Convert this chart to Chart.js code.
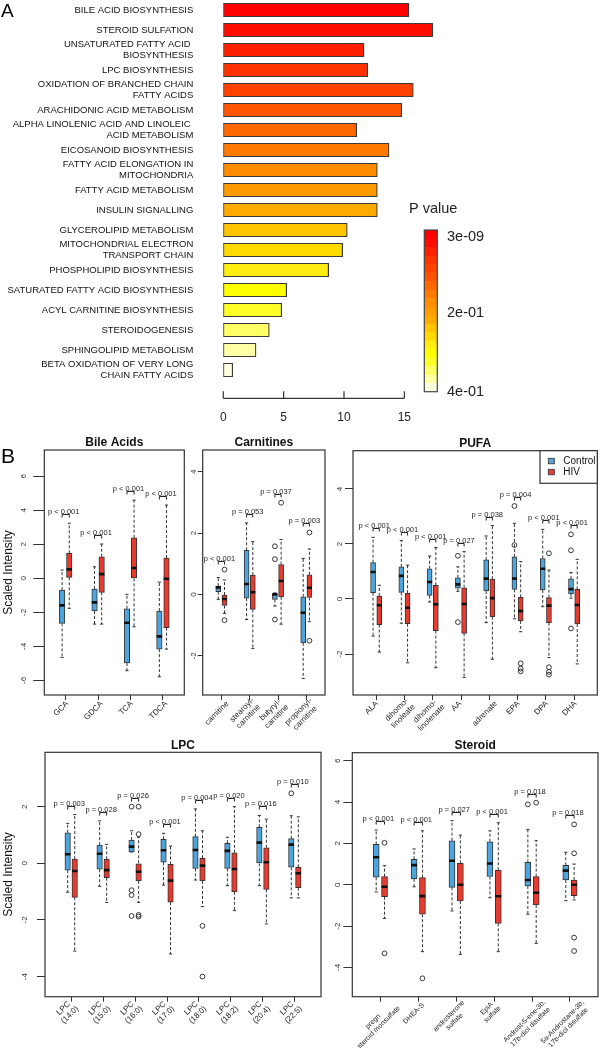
<!DOCTYPE html>
<html><head><meta charset="utf-8">
<script src="https://cdn.jsdelivr.net/npm/chart.js@4.4.0/dist/chart.umd.min.js"></script>
<style>
html,body{margin:0;padding:0;background:#fff}
body{width:600px;height:1048px;position:relative;overflow:hidden}
canvas{position:absolute}
</style></head><body>
<canvas id="cA"></canvas>
<canvas id="cBile"></canvas>
<canvas id="cCarn"></canvas>
<canvas id="cPufa"></canvas>
<canvas id="cLpc"></canvas>
<canvas id="cSter"></canvas>
<script>
// ---------------- Panel A data ----------------
const pathways = [
 "BILE ACID BIOSYNTHESIS",
 "STEROID SULFATION",
 ["UNSATURATED FATTY ACID ", "BIOSYNTHESIS"],
 "LPC BIOSYNTHESIS",
 ["OXIDATION OF BRANCHED CHAIN", "FATTY ACIDS"],
 "ARACHIDONIC ACID METABOLISM",
 ["ALPHA LINOLENIC ACID AND LINOLEIC ", "ACID METABOLISM"],
 "EICOSANOID BIOSYNTHESIS",
 ["FATTY ACID ELONGATION IN", "MITOCHONDRIA"],
 "FATTY ACID METABOLISM",
 "INSULIN SIGNALLING",
 "GLYCEROLIPID METABOLISM",
 ["MITOCHONDRIAL ELECTRON", "TRANSPORT CHAIN"],
 "PHOSPHOLIPID BIOSYNTHESIS",
 "SATURATED FATTY ACID BIOSYNTHESIS",
 "ACYL CARNITINE BIOSYNTHESIS",
 "STEROIDOGENESIS",
 "SPHINGOLIPID METABOLISM",
 ["BETA OXIDATION OF VERY LONG", "CHAIN FATTY ACIDS"]
];
const enrichment = [15.38, 17.35, 11.66, 11.96, 15.74, 14.78, 11.05, 13.73, 12.76, 12.76, 12.76, 10.27, 9.89, 8.73, 5.25, 4.84, 3.81, 2.71, 0.78];
const barColors = ["#ff0000","#ff0e00","#ff2000","#ff3300","#ff4200","#ff5500","#ff6800","#ff7a00","#ff8c00","#ff9a00","#ffaa00","#ffc400","#ffda00","#ffec10","#ffff00","#ffff28","#ffff66","#ffffa6","#ffffe0"];
const axisTicksA = [0, 5, 10, 15];
const pLegendLabels = ["3e-09", "2e-01", "4e-01"];

// ---------------- Panel B data: [whiskerLow, Q1, median, Q3, whiskerHigh] ----------------
const groupNames = ["Control", "HIV"];

const bileCats = ["GCA", "GDCA", "TCA", "TDCA"];
const bileCtrl = [[-4.65,-2.65,-1.59,-0.69,0.49],[-2.69,-1.92,-1.41,-0.63,0.68],[-5.43,-4.98,-2.61,-1.79,-0.94],[-5.79,-4.16,-3.41,-1.92,-0.22]];
const bileHiv  = [[-1.76,0.06,0.53,1.47,3.24],[-2.69,-0.82,0.25,1.27,2.02],[-2.85,0.0,0.61,2.39,4.6],[-4.16,-2.9,-0.02,1.19,4.31]];
const bileCtrlOut = [[],[],[],[]];
const bileHivOut  = [[],[],[],[]];
const bileP = ["p < 0.001","p < 0.001","p < 0.001","p < 0.001"];
const bileYTicks = [-6,-4,-2,0,2,4,6];

const carnCats = ["carnitine", ["stearoyl-","carnitine"], ["butyryl-","carnitine"], ["propionyl-","carnitine"]];
const carnCtrl = [[-0.16,0.09,0.23,0.27,0.55],[-0.82,-0.12,0.34,1.44,2.33],[-0.38,-0.16,0.0,0.03,0.05],[-2.74,-1.58,-0.6,-0.08,1.17]];
const carnHiv  = [[-0.62,-0.36,-0.15,-0.02,0.47],[-1.76,-0.49,0.07,0.63,1.72],[-0.97,-0.08,0.44,0.97,1.79],[-0.89,-0.1,0.22,0.64,1.48]];
const carnCtrlOut = [[],[],[1.57,1.15,-0.82],[]];
const carnHivOut  = [[0.81,-0.84],[],[2.99],[2.02,-1.51]];
const carnP = ["p < 0.001","p = 0.053","p = 0.037","p = 0.003"];
const carnYTicks = [-2,0,2,4];

const pufaCats = ["ALA", ["dihomo-","linoleate"], ["dihomo-","linolenate"], "AA", "adrenate", "EPA", "DPA", "DHA"];
const pufaCtrl = [[-1.35,0.23,0.98,1.32,2.24],[-0.88,0.24,0.84,1.17,2.12],[-0.11,0.13,0.62,1.1,1.56],[0.28,0.39,0.53,0.77,1.17],[-0.86,0.29,0.74,1.42,2.29],[-0.72,0.35,0.74,1.53,2.75],[-0.28,0.33,1.1,1.47,2.53],[0.03,0.18,0.36,0.73,0.96]];
const pufaHiv  = [[-1.93,-0.93,-0.23,0.11,0.5],[-2.32,-0.9,-0.32,0.21,1.23],[-2.5,-1.15,-0.19,0.5,1.87],[-2.85,-1.25,-0.18,0.41,1.72],[-2.19,-0.64,0.03,0.72,2.67],[-1.19,-0.8,-0.44,0.06,1.36],[-2.13,-0.86,-0.24,0.05,1.05],[-2.36,-0.91,-0.22,0.35,1.44]];
const pufaCtrlOut = [[],[],[],[1.57,-0.84],[],[3.38,1.96],[],[2.35,1.77,-1.07]];
const pufaHivOut  = [[],[],[],[],[],[-2.34,-2.53,-2.63],[1.66,-2.48,-2.65,-2.75],[]];
const pufaP = ["p < 0.001","p < 0.001","p < 0.001","p = 0.027","p = 0.038","p = 0.004","p < 0.001","p < 0.001"];
const pufaYTicks = [-2,0,2,4];

const lpcCats = [["LPC","(14:0)"],["LPC","(15:0)"],["LPC","(16:0)"],["LPC","(17:0)"],["LPC","(18:0)"],["LPC","(18:2)"],["LPC","(20:4)"],["LPC","(22:5)"]];
const lpcCtrl = [[-1.02,-0.24,0.32,1.08,1.41],[-0.81,-0.21,0.34,0.64,1.5],[0.4,0.4,0.59,0.82,1.15],[-0.77,0.04,0.46,0.85,1.06],[-0.59,-0.18,0.47,0.94,1.92],[-0.79,-0.18,0.44,0.71,0.92],[-0.79,0.0,0.73,1.27,1.69],[-1.22,-0.14,0.66,0.87,1.68]];
const lpcHiv  = [[-3.1,-1.2,-0.27,0.15,1.72],[-1.38,-0.51,-0.24,0.14,0.67],[-1.38,-0.62,-0.3,0.0,0.92],[-3.2,-1.37,-0.61,-0.04,0.61],[-1.53,-0.62,-0.08,0.18,1.15],[-1.67,-1.01,-0.2,0.37,2.0],[-2.14,-0.92,0.04,0.55,1.56],[-1.22,-0.86,-0.35,-0.14,1.64]];
const lpcCtrlOut = [[],[],[2.0,-0.95,-1.12,-1.86],[],[],[],[],[2.47]];
const lpcHivOut  = [[],[],[2.0,1.03,-1.82,-1.88],[],[-2.21,-4.0],[],[],[]];
const lpcP = ["p = 0.003","p = 0.028","p = 0.026","p < 0.001","p = 0.004","p = 0.020","p = 0.016","p = 0.010"];
const lpcYTicks = [-4,-2,0,2];

const sterCats = [["pregn","steroid monsulfate"], "DHEA-S", ["androsterone","sulfate"], ["EpiA","sulfate"], ["Androst-5-ene-3b,","17b-diol disulfate"], ["5a-Androstane-3b,","17b-diol disulfate"]];
const sterCtrl = [[-0.35,0.36,1.33,1.95,2.65],[-0.1,0.28,0.95,1.23,1.73],[-1.27,-0.13,1.16,2.13,3.1],[-0.63,0.4,1.03,2.08,2.61],[-1.43,-0.06,0.23,1.08,2.68],[-0.77,0.23,0.68,0.94,1.57]];
const sterHiv  = [[-1.63,-0.58,-0.1,0.39,0.92],[-3.24,-1.43,-0.55,0.34,2.61],[-3.37,-0.79,0.0,1.03,2.4],[-3.24,-1.87,-0.56,0.7,3.0],[-2.84,-0.98,-0.39,0.39,2.13],[-0.74,-0.53,0.0,0.23,1.0]];
const sterCtrlOut = [[],[],[],[],[3.89],[]];
const sterHivOut  = [[2.03,-3.32],[-4.53],[],[],[3.97],[2.92,1.52,-2.56,-3.21]];
const sterP = ["p < 0.001","p < 0.001","p = 0.027","p < 0.001","p = 0.018","p = 0.018"];
const sterYTicks = [-4,-2,0,2,4,6];

// ---------------- styling ----------------
const FONT = '"Liberation Sans", Arial, Helvetica, sans-serif';
const BLUE = '#4ea4dc', RED = '#e63b2e';
const DX = 0.11;

function place(c, left, top, w, h) {
  c.width = w; c.height = h;
  c.style.left = left + 'px'; c.style.top = top + 'px';
  c.style.width = w + 'px'; c.style.height = h + 'px';
}
function noPad(s) { s.paddingTop = 0; s.paddingBottom = 0; s.paddingLeft = 0; s.paddingRight = 0; }

// ---------------- Panel A ----------------
const A_LEFT = 223.3, A_UNIT = 12.07, A_MAX = 17.6;
const panelAPlugin = {
  id: 'panelA',
  afterDraw(chart) {
    const {ctx} = chart; const xs = chart.scales.x;
    ctx.save();
    ctx.strokeStyle = '#333'; ctx.lineWidth = 1.2;
    const yAx = 398.3;
    ctx.beginPath();
    ctx.moveTo(xs.getPixelForValue(axisTicksA[0]), yAx);
    ctx.lineTo(xs.getPixelForValue(axisTicksA[axisTicksA.length - 1]), yAx);
    axisTicksA.forEach(v => { const px = xs.getPixelForValue(v); ctx.moveTo(px, yAx); ctx.lineTo(px, yAx - 7); });
    ctx.stroke();
    // colour key
    const cbX = 424.3, cbY = 230, cbW = 13, cbH = 161.7, n = barColors.length;
    for (let i = 0; i < n; i++) { ctx.fillStyle = barColors[i]; ctx.fillRect(cbX, cbY + i * cbH / n, cbW, cbH / n + 0.6); }
    ctx.strokeStyle = '#444'; ctx.lineWidth = 1.2; ctx.strokeRect(cbX, cbY, cbW, cbH);
    ctx.fillStyle = '#222'; ctx.textBaseline = 'middle'; ctx.textAlign = 'left';
    ctx.font = '14.5px ' + FONT; ctx.fillText('P value', 409, 209);
    [237, 313.3, 391.7].forEach((yy, i) => ctx.fillText(pLegendLabels[i], 447, yy));
    ctx.font = '19px ' + FONT; ctx.fillStyle = '#000'; ctx.fillText('A', 1, 12);
    ctx.restore();
  }
};
(function () {
  const c = document.getElementById('cA');
  place(c, 0, 0, 600, 440);
  new Chart(c, {
    type: 'bar',
    data: { labels: pathways, datasets: [{ data: enrichment, backgroundColor: barColors, borderColor: '#3a3a3a', borderWidth: 1.2, borderSkipped: false, barThickness: 13.5 }] },
    options: {
      indexAxis: 'y', responsive: false, animation: false, events: [],
      layout: { autoPadding: false, padding: { left: 0, top: 0, bottom: 0, right: 600 - (A_LEFT + A_MAX * A_UNIT) } },
      plugins: { legend: { display: false }, tooltip: { enabled: false } },
      scales: {
        x: { type: 'linear', min: 0, max: A_MAX,
             afterBuildTicks: s => { s.ticks = axisTicksA.map(v => ({ value: v })); },
             afterFit: s => { s.height = 60; noPad(s); },
             grid: { display: false, drawTicks: false }, border: { display: false },
             ticks: { font: { family: FONT, size: 12 }, color: '#222', padding: 30 } },
        y: { afterFit: s => { s.width = A_LEFT; noPad(s); },
             grid: { display: false, drawTicks: false }, border: { display: false },
             ticks: { autoSkip: false, font: { family: FONT, size: 9.5, lineHeight: 1.22 }, color: '#111', padding: 30 } }
      }
    },
    plugins: [panelAPlugin]
  });
})();

// ---------------- Panel B (box plots) ----------------
function makeDeco(cfg) {
  return {
    id: 'deco',
    afterDatasetsDraw(chart) {
      const { ctx, chartArea: a, scales: { x, y } } = chart;
      const [cl, ct] = cfg.canvas;
      ctx.save();
      ctx.strokeStyle = '#333'; ctx.lineWidth = 1.2;
      ctx.strokeRect(a.left, a.top, a.right - a.left, a.bottom - a.top);
      // rotated y tick labels
      ctx.fillStyle = '#333'; ctx.font = '8px ' + FONT; ctx.textAlign = 'center'; ctx.textBaseline = 'middle';
      cfg.yTicks.forEach(v => {
        const py = y.getPixelForValue(v);
        ctx.save(); ctx.translate(a.left - cfg.yLabOff, py); ctx.rotate(-Math.PI / 2); ctx.fillText(String(v), 0, 0); ctx.restore();
      });
      // rotated (45 degree) category labels; each line centred, block hanging below the axis
      const fs = cfg.xFont || 8, LH = fs * 1.15;
      ctx.font = fs + 'px ' + FONT; ctx.fillStyle = '#222'; ctx.textAlign = 'center'; ctx.textBaseline = 'middle';
      cfg.cats.forEach((lab, i) => {
        const lines = Array.isArray(lab) ? lab : [lab];
        const W = Math.max(...lines.map(l => ctx.measureText(l).width));
        const px = x.getPixelForValue(i + 1);
        ctx.save(); ctx.translate(px - 4.5, a.bottom + 7.5 + (W / 2) * Math.SQRT1_2); ctx.rotate(-Math.PI / 4);
        lines.forEach((ln, k) => ctx.fillText(ln, 0, (k - (lines.length - 1) / 2) * LH));
        ctx.restore();
      });
      // title
      ctx.textAlign = 'center'; ctx.textBaseline = 'middle';
      ctx.font = 'bold 12px ' + FONT; ctx.fillStyle = '#111';
      ctx.fillText(cfg.title, (a.left + a.right) / 2, a.top - 7);
      // p-value brackets
      ctx.font = '7.5px ' + FONT; ctx.lineWidth = 1; ctx.strokeStyle = '#222'; ctx.fillStyle = '#222';
      cfg.pvals.forEach((p, i) => {
        const top = Math.max(cfg.ctrl[i][4], cfg.hiv[i][4], ...cfg.ctrlOut[i], ...cfg.hivOut[i]);
        const yb = Math.round(y.getPixelForValue(top) - 9) + 0.5;
        const x1 = x.getPixelForValue(i + 1 - DX), x2 = x.getPixelForValue(i + 1 + DX);
        ctx.beginPath(); ctx.moveTo(x1, yb + 3); ctx.lineTo(x1, yb); ctx.lineTo(x2, yb); ctx.lineTo(x2, yb + 3); ctx.stroke();
        ctx.textAlign = 'center'; ctx.textBaseline = 'alphabetic';
        ctx.fillText(p, (x1 + x2) / 2 - 2, yb - 0.5);
      });
      // y axis title
      if (cfg.yTitle) {
        ctx.save(); ctx.font = '12px ' + FONT; ctx.fillStyle = '#111'; ctx.textAlign = 'center'; ctx.textBaseline = 'middle';
        ctx.translate(9 - cl, (a.top + a.bottom) / 2); ctx.rotate(-Math.PI / 2); ctx.fillText('Scaled Intensity', 0, 0); ctx.restore();
      }
      if (cfg.letter) {
        ctx.font = '21px ' + FONT; ctx.fillStyle = '#000'; ctx.textAlign = 'left'; ctx.textBaseline = 'middle';
        ctx.fillText(cfg.letter, 1 - cl, 457.5 - ct);
      }
      if (cfg.legend) {
        const lw = 57.3, lh = 32.6, lx = a.right - lw, ly = a.top;
        ctx.fillStyle = '#fff'; ctx.fillRect(lx, ly, lw, lh);
        ctx.strokeStyle = '#333'; ctx.lineWidth = 1.2; ctx.strokeRect(lx, ly, lw, lh);
        [BLUE, RED].forEach((col, k) => {
          const sy = ly + 7.6 + k * 11;
          ctx.fillStyle = col; ctx.fillRect(lx + 8.3, sy, 6, 5.5);
          ctx.strokeStyle = '#333'; ctx.lineWidth = 0.8; ctx.strokeRect(lx + 8.3, sy, 6, 5.5);
          ctx.fillStyle = '#111'; ctx.font = '10px ' + FONT; ctx.textAlign = 'left'; ctx.textBaseline = 'middle';
          ctx.fillText(groupNames[k], lx + 23.3, sy + 2.8);
        });
      }
      ctx.restore();
    }
  };
}

function boxPanel(cfg) {
  const c = document.getElementById(cfg.id);
  const [cl, ct, cw, ch] = cfg.canvas;
  const [L, T, R, B] = cfg.area;
  place(c, cl, ct, cw, ch);
  const n = cfg.cats.length;
  const groups = [
    { stats: cfg.ctrl, out: cfg.ctrlOut, dx: -DX, color: BLUE },
    { stats: cfg.hiv, out: cfg.hivOut, dx: DX, color: RED }
  ];
  const datasets = [];
  groups.forEach(g => {
    datasets.push({ type: 'scatter', order: 0, showLine: false,
      data: g.stats.map((s, i) => ({ x: i + 1 + g.dx, y: s[2] })),
      pointStyle: 'line', pointRadius: cfg.bw / 2, pointBorderWidth: 2.6, pointBorderColor: '#111', pointBackgroundColor: '#111' });
    datasets.push({ type: 'scatter', order: 0, showLine: false,
      data: g.out.flatMap((arr, i) => arr.map(v => ({ x: i + 1 + g.dx, y: v }))),
      pointStyle: 'circle', pointRadius: 2.4, pointBorderWidth: 0.9, pointBorderColor: '#222', pointBackgroundColor: 'rgba(0,0,0,0)' });
    datasets.push({ type: 'bar', order: 1, grouped: false,
      data: g.stats.map((s, i) => ({ x: i + 1 + g.dx, y: [s[1], s[3]] })),
      backgroundColor: g.color, borderColor: '#333', borderWidth: 1, borderSkipped: false, barThickness: cfg.bw });
    const wData = [];
    g.stats.forEach((s, i) => {
      const xx = i + 1 + g.dx;
      wData.push({ x: xx, y: s[3] }, { x: xx, y: s[4] }, { x: xx, y: null }, { x: xx, y: s[1] }, { x: xx, y: s[0] }, { x: xx, y: null });
    });
    datasets.push({ type: 'line', order: 2, data: wData, borderColor: '#333', borderWidth: 1, borderDash: [3, 2], pointRadius: 0, spanGaps: false, fill: false, tension: 0 });
    datasets.push({ type: 'scatter', order: 2, showLine: false,
      data: g.stats.flatMap((s, i) => [{ x: i + 1 + g.dx, y: s[4] }, { x: i + 1 + g.dx, y: s[0] }]),
      pointStyle: 'line', pointRadius: 1.6, pointBorderWidth: 1, pointBorderColor: '#333' });
  });
  const xTickVals = cfg.cats.map((_, i) => i + 1);
  new Chart(c, {
    type: 'bar',
    data: { datasets },
    options: {
      responsive: false, animation: false, events: [],
      layout: { autoPadding: false, padding: { left: 0, top: T - ct, right: cl + cw - R, bottom: 0 } },
      plugins: { legend: { display: false }, tooltip: { enabled: false } },
      scales: {
        x: { type: 'linear', offset: false, min: 0.5 - 0.04 * n, max: n + 0.5 + 0.04 * n,
             afterBuildTicks: s => { s.ticks = xTickVals.map(v => ({ value: v })); },
             afterFit: s => { s.height = ct + ch - B; noPad(s); },
             grid: { display: true, offset: false, drawOnChartArea: false, drawTicks: true, tickLength: 5, color: '#333', lineWidth: 1 },
             border: { display: false },
             ticks: { display: false, autoSkip: false } },
        y: { type: 'linear', min: cfg.yRange[0], max: cfg.yRange[1],
             afterBuildTicks: s => { s.ticks = cfg.yTicks.map(v => ({ value: v })); },
             afterFit: s => { s.width = L - cl; noPad(s); },
             grid: { display: true, drawOnChartArea: false, drawTicks: true, tickLength: cfg.tickLen, color: '#333', lineWidth: 1 },
             border: { display: false },
             ticks: { display: false } }
      }
    },
    plugins: [makeDeco(cfg)]
  });
}

boxPanel({ id: 'cBile', canvas: [0, 425, 197, 325], area: [44.3, 450, 184.3, 695], title: 'Bile Acids',
  cats: bileCats, ctrl: bileCtrl, hiv: bileHiv, ctrlOut: bileCtrlOut, hivOut: bileHivOut, pvals: bileP,
  yTicks: bileYTicks, yRange: [-6.86, 7.55], tickLen: 11, yLabOff: 21, bw: 5.5, yTitle: true, letter: 'B' });
boxPanel({ id: 'cCarn', canvas: [186, 425, 157, 325], area: [202.7, 450, 325, 695], title: 'Carnitines',
  cats: carnCats, ctrl: carnCtrl, hiv: carnHiv, ctrlOut: carnCtrlOut, hivOut: carnHivOut, pvals: carnP,
  yTicks: carnYTicks, yRange: [-3.28, 4.71], tickLen: 5, yLabOff: 9, bw: 5 });
boxPanel({ id: 'cPufa', canvas: [325, 425, 275, 325], area: [353, 450.7, 597.3, 695], title: 'PUFA',
  cats: pufaCats, ctrl: pufaCtrl, hiv: pufaHiv, ctrlOut: pufaCtrlOut, hivOut: pufaHivOut, pvals: pufaP,
  yTicks: pufaYTicks, yRange: [-3.49, 5.39], tickLen: 8, yLabOff: 13, bw: 5, legend: true });
boxPanel({ id: 'cLpc', canvas: [0, 728, 335, 320], area: [45, 752.3, 321, 996.7], title: 'LPC',
  cats: lpcCats, ctrl: lpcCtrl, hiv: lpcHiv, ctrlOut: lpcCtrlOut, hivOut: lpcHivOut, pvals: lpcP,
  yTicks: lpcYTicks, yRange: [-4.71, 3.92], tickLen: 8, yLabOff: 20, bw: 5.5, yTitle: true });
boxPanel({ id: 'cSter', canvas: [290, 728, 310, 320], area: [352.3, 752.7, 598, 996.7], title: 'Steroid',
  cats: sterCats, ctrl: sterCtrl, hiv: sterHiv, ctrlOut: sterCtrlOut, hivOut: sterHivOut, pvals: sterP,
  yTicks: sterYTicks, yRange: [-5.42, 6.39], tickLen: 9, yLabOff: 15, bw: 6, xFont: 7 });
</script>
</body></html>
